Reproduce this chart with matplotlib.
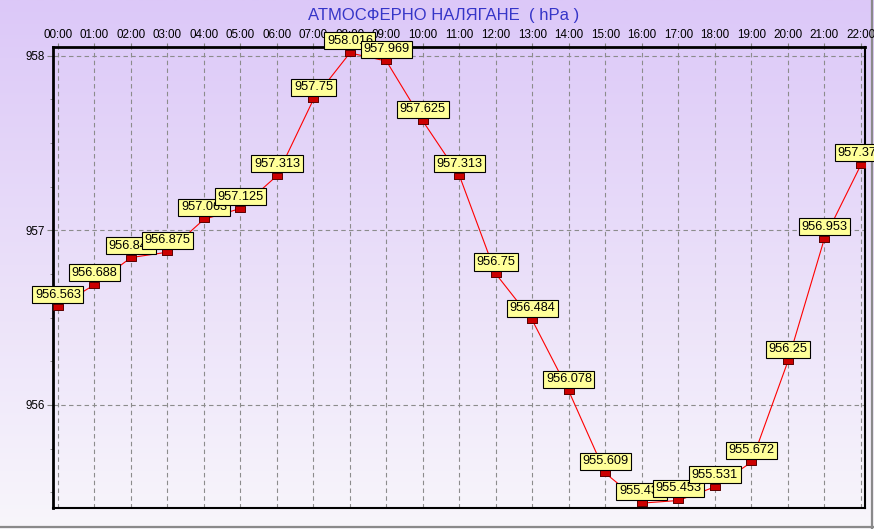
import matplotlib
matplotlib.use("Agg")
import matplotlib.pyplot as plt
import numpy as np
from matplotlib.colors import LinearSegmentedColormap
from matplotlib.ticker import MultipleLocator

plt.rcParams["font.family"] = ["Liberation Sans", "DejaVu Sans"]

# ---- data ----------------------------------------------------------------
hours = ["00:00", "01:00", "02:00", "03:00", "04:00", "05:00", "06:00",
         "07:00", "08:00", "09:00", "10:00", "11:00", "12:00", "13:00",
         "14:00", "15:00", "16:00", "17:00", "18:00", "19:00", "20:00",
         "21:00", "22:00"]
pressure = [956.563, 956.688, 956.844, 956.875, 957.063, 957.125, 957.313,
            957.75, 958.016, 957.969, 957.625, 957.313, 956.75, 956.484,
            956.078, 955.609, 955.438, 955.453, 955.531, 955.672, 956.25,
            956.953, 957.375]
labels = ["956.563", "956.688", "956.844", "956.875", "957.063", "957.125",
          "957.313", "957.75", "958.016", "957.969", "957.625", "957.313",
          "956.75", "956.484", "956.078", "955.609", "955.438", "955.453",
          "955.531", "955.672", "956.25", "956.953", "957.375"]
yticks = [956, 957, 958]
title = "АТМОСФЕРНО НАЛЯГАНЕ  ( hPa )"

# ---- figure + gradient background ----------------------------------------
fig = plt.figure(figsize=(8.74, 5.29), dpi=100)
bg = fig.add_axes([0, 0, 1, 1], zorder=-10)
cmap = LinearSegmentedColormap.from_list("bg", ["#f8f6fb", "#dcc8f8"])
bg.imshow(np.linspace(0, 1, 256).reshape(-1, 1), aspect="auto", cmap=cmap,
          extent=[0, 1, 0, 1], origin="lower")
bg.set_xlim(0, 1); bg.set_ylim(0, 1)
bg.axis("off")
# grey window border (bottom / right)
bg.plot([0, 1], [0.004, 0.004], color="#8a8a8a", lw=1.6)
bg.plot([0.998, 0.998], [0, 1], color="#8a8a8a", lw=1.6)

ax = fig.add_axes([0.0606, 0.0397, 0.929, 0.8715])
ax.patch.set_alpha(0)

x = np.arange(len(hours))
ax.plot(x, pressure, color="#ff0000", lw=0.8, zorder=3)
ax.plot(x, pressure, linestyle="none",
        marker=[(-1, -0.6), (1, -0.6), (1, 0.6), (-1, 0.6), (-1, -0.6)],
        markersize=7.4, markerfacecolor="#cc0000", markeredgecolor="#5a0000",
        markeredgewidth=0.7, zorder=4)

# value boxes: later ones sit on top of earlier ones
for i, (xi, yi, lab) in enumerate(zip(x, pressure, labels)):
    ax.annotate(lab, (xi, yi), xytext=(0, 6), textcoords="offset pixels",
                ha="center", va="bottom", fontsize=9.2, color="black",
                annotation_clip=False, zorder=10 + i,
                bbox=dict(boxstyle="square,pad=0.2", facecolor="#ffff99",
                          edgecolor="black", linewidth=0.8))

ax.set_xlim(-0.137, 22.11)
ax.set_ylim(955.41, 958.05)
ax.set_xticks(x)
ax.set_xticklabels(hours)
ax.set_yticks(yticks)
ax.set_yticklabels([str(v) for v in yticks])
ax.yaxis.set_minor_locator(MultipleLocator(0.25))
ax.xaxis.tick_top()
ax.tick_params(axis="x", length=3, pad=1.5, labelsize=8.4, color="#808080")
ax.tick_params(axis="y", which="major", length=4, pad=2, labelsize=8.4,
               color="#808080")
ax.tick_params(axis="y", which="minor", length=2, color="#808080")
ax.grid(True, color="#8c8c8c", linestyle=(0, (4, 3)), lw=0.8)

for side in ("left", "top"):
    ax.spines[side].set_linewidth(2.0)
for side in ("right", "bottom"):
    ax.spines[side].set_linewidth(1.5)
for s in ax.spines.values():
    s.set_color("black")
    s.set_zorder(2)

fig.text(0.508, 0.971, title, ha="center", va="center", fontsize=12,
         color="#3535c8")

fig.savefig("out.png", dpi=100)
